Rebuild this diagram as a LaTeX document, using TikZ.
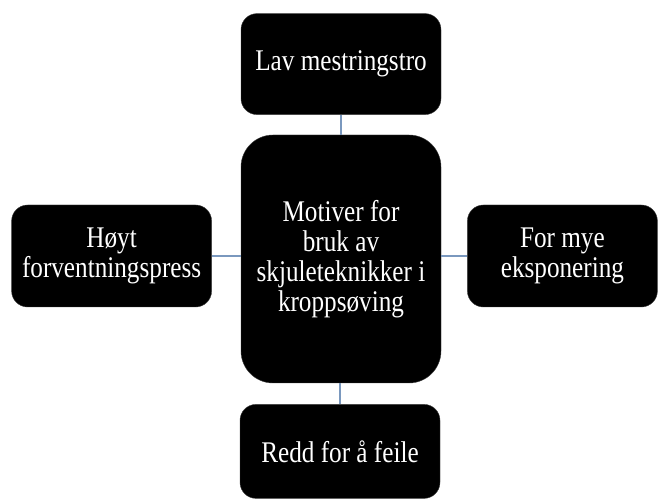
\documentclass[tikz,border=0pt]{standalone}
\usepackage{fontspec}
\setmainfont{Liberation Serif}[FakeStretch=0.84]
\usetikzlibrary{positioning}
\definecolor{linkblue}{RGB}{122,152,190}

\begin{document}
\begin{tikzpicture}[
    x=1pt, y=1pt,
    font=\fontsize{30}{30}\selectfont,
    box/.style={draw=black!75, fill=black, text=white, rounded corners=16pt,
                align=center, inner sep=2pt, minimum width=200pt,
                minimum height=101pt},
    hub/.style={box, rounded corners=32pt, minimum height=248pt},
    link/.style={linkblue, line width=1.5pt},
]
    \useasboundingbox (0,0) rectangle (658,500);

    %==================== CENTRE ====================
    \node[hub] (motiv) at (341,241)
        {Motiver for\\ bruk av\\ skjuleteknikker i\\ kroppsøving};

    %==================== OUTER BOXES ====================
    \node[box, above=20pt of motiv] (lav) {Lav mestringstro};
    \node[box, below=21pt of motiv, xshift=-1pt, minimum height=94pt] (redd)
        {Redd for å feile};
    \node[box, left=29pt of motiv, yshift=3pt, minimum height=102pt] (hoyt)
        {Høyt\\ forventningspress};
    \node[box, right=26pt of motiv, yshift=3pt, minimum width=190pt,
          minimum height=102pt] (mye)
        {For mye\\ eksponering};

    % links to the centre
    \draw[link] (lav.south) -- (motiv.north);
    \draw[link] (redd.north) -- (redd.north |- motiv.south);
    \draw[link] (hoyt.east) -- (hoyt.east -| motiv.west);
    \draw[link] (mye.west) -- (mye.west -| motiv.east);

\end{tikzpicture}
\end{document}
